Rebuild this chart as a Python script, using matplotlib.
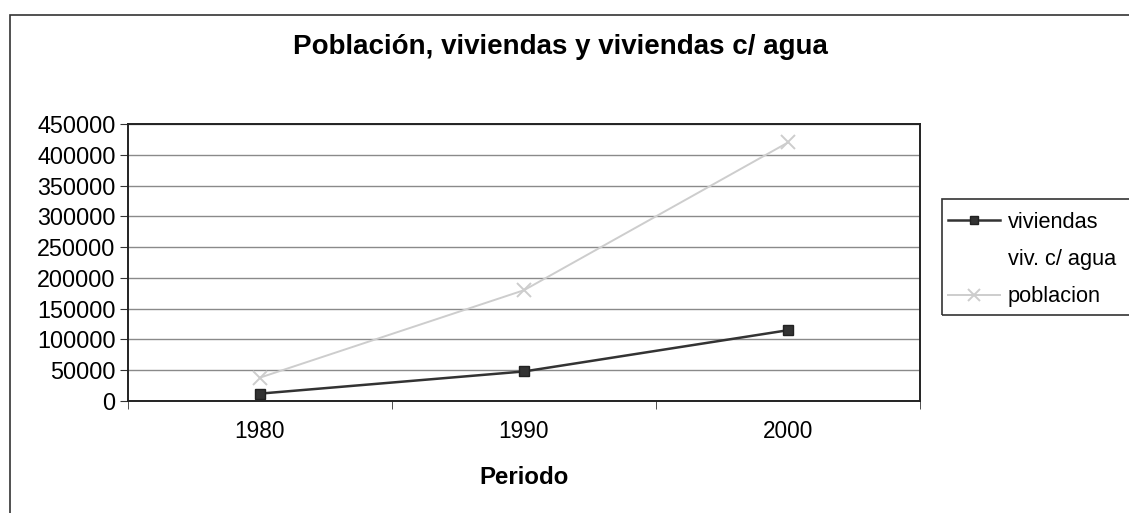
import matplotlib
matplotlib.use("Agg")
import matplotlib.pyplot as plt
from matplotlib.patches import Rectangle

plt.rcParams['font.family'] = ['Liberation Sans', 'DejaVu Sans']

periods = ["1980", "1990", "2000"]
viviendas = [12000, 48000, 115000]
viv_agua = [8000, 40000, 100000]
poblacion = [38000, 180000, 420000]
yticks = [0, 50000, 100000, 150000, 200000, 250000, 300000, 350000, 400000, 450000]

fig = plt.figure(figsize=(11.29, 5.13), dpi=100)
fig.patch.set_facecolor('white')
# outer chart frame
fig.add_artist(Rectangle((10/1129, -0.05), 1.2, 1 - 15/513 + 0.05, transform=fig.transFigure,
                         fill=False, edgecolor='#333333', linewidth=1.2))

ax = fig.add_axes([128/1129, 1 - 401/513, (920 - 128)/1129, (401 - 124)/513])
x = list(range(len(periods)))
ax.plot(x, viviendas, color='#333333', linewidth=1.8, marker='s', markersize=7,
        markerfacecolor='#333333', markeredgecolor='#222222', label='viviendas', zorder=4)
ax.plot(x, viv_agua, color='none', linewidth=1.6, label='viv. c/ agua', zorder=1)
ax.plot(x, poblacion, color='#cdcdcd', linewidth=1.4, marker='x', markersize=10,
        markeredgewidth=1.4, label='poblacion', zorder=3)

ax.set_xlim(-0.5, 2.5)
ax.set_ylim(0, 450000)
ax.set_yticks(yticks)
ax.set_yticklabels([str(v) for v in yticks], fontsize=16.8)
ax.set_xticks(x)
ax.set_xticklabels(periods, fontsize=16.3)
ax.tick_params(axis='x', length=0, pad=14)
ax.set_xticks([-0.5, 0.5, 1.5, 2.5], minor=True)
ax.tick_params(axis='x', which='minor', length=6, direction='out', color='#333333')
ax.tick_params(axis='y', length=6, direction='out', color='#333333', pad=3)
ax.yaxis.grid(True, color='#8a8a8a', linewidth=1.0)
ax.set_axisbelow(True)
for s in ax.spines.values():
    s.set_color('#222222')
    s.set_linewidth(1.4)

ax.set_xlabel('Periodo', fontsize=17.3, fontweight='bold', labelpad=16)
fig.text(560/1129, 1 - 47/513, 'Población, viviendas y viviendas c/ agua', ha='center', va='center',
         fontsize=20, fontweight='bold')

# legend frame (extends past the right edge as in the reference)
fig.add_artist(Rectangle((942/1129, 1 - 315/513), 0.3, (315 - 199)/513, transform=fig.transFigure,
                         fill=False, edgecolor='#333333', linewidth=1.2))
leg = fig.legend(loc='upper left', bbox_to_anchor=(928/1129, 1 - 192/513), fontsize=15.7,
                 frameon=False, handlelength=2.4, borderpad=0.4, labelspacing=0.75,
                 handletextpad=0.35, markerscale=0.8)

fig.savefig('out.png', dpi=100, facecolor='white')
